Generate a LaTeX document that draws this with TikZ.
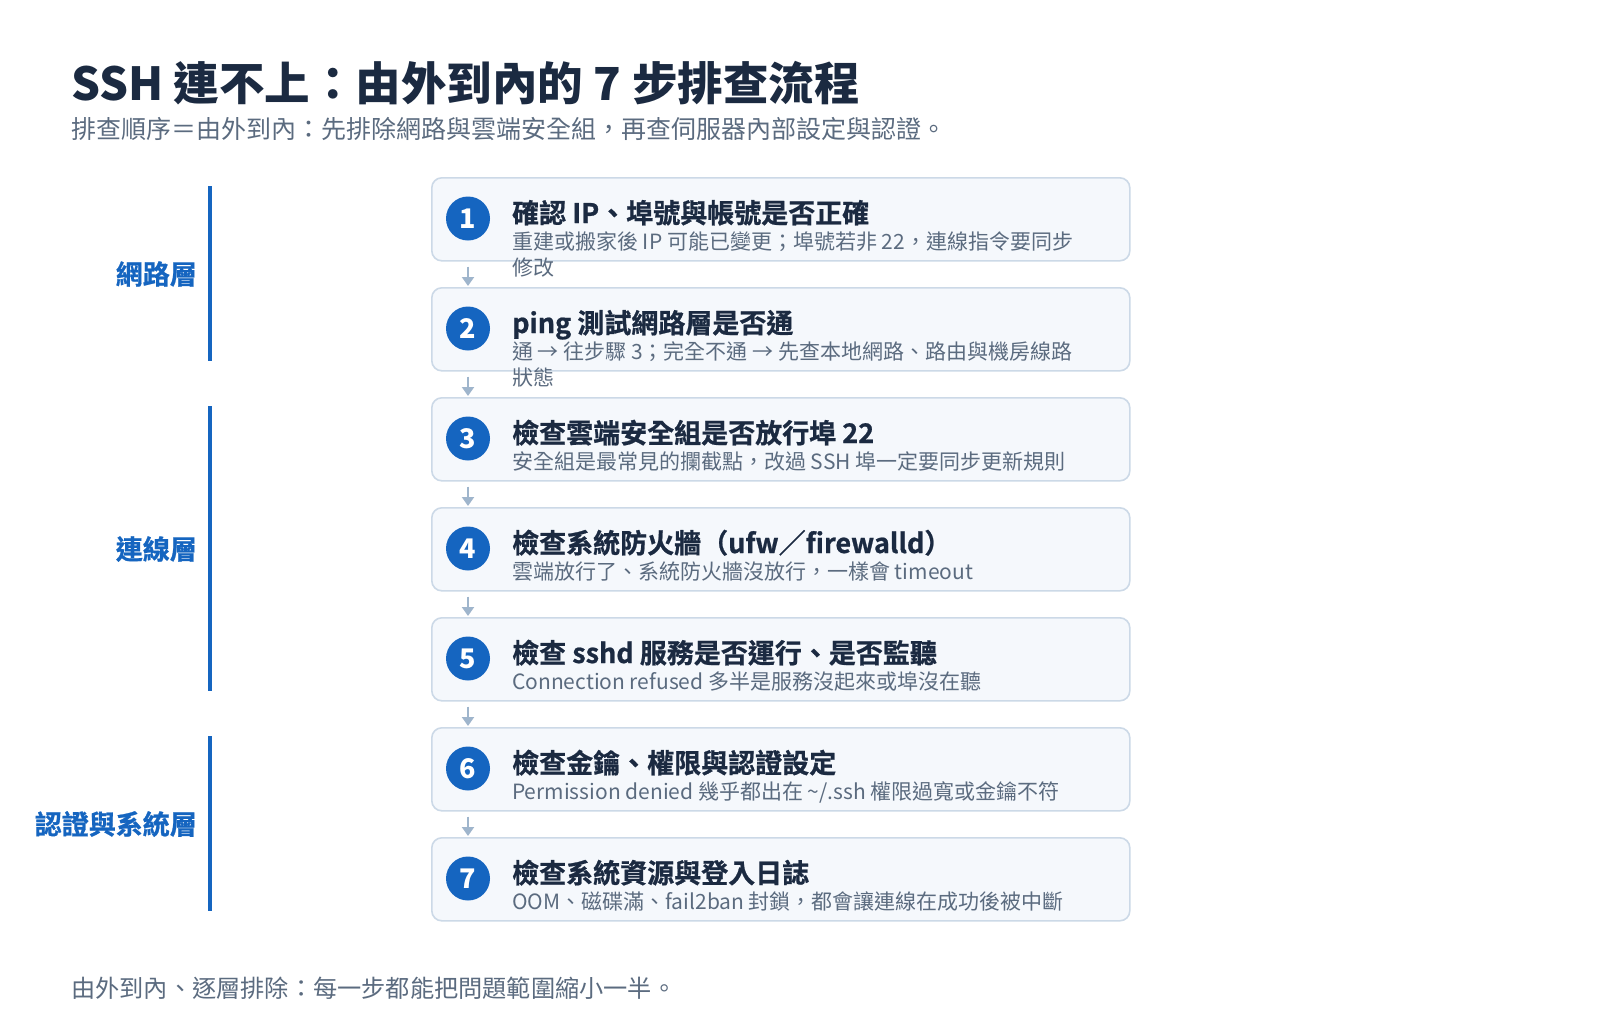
\documentclass[tikz,border=0pt]{standalone}
\usepackage{fontspec}
\setmainfont{Noto Sans CJK TC}
\newfontfamily\heavyfont{Noto Sans CJK TC Bold}[FakeBold=0.8]
\usetikzlibrary{arrows.meta}
\definecolor{titlec}{HTML}{1B2A41}
\definecolor{grayc}{HTML}{5B6B7F}
\definecolor{boxfill}{HTML}{F5F8FC}
\definecolor{boxline}{HTML}{CCD9E7}
\definecolor{bluec}{HTML}{1565C0}
\definecolor{arrc}{HTML}{9FB5CC}
\tikzset{
  box/.style={draw=boxline, line width=1.6pt, fill=boxfill, rounded corners=10pt,
    minimum width=698pt, minimum height=83pt, anchor=north west, inner sep=0pt},
  num/.style={circle, fill=bluec, minimum size=44pt, inner sep=0pt, text=white,
    font=\fontsize{27}{28}\selectfont\bfseries},
  ttl/.style={anchor=base west, inner sep=0pt, text=titlec,
    font=\fontsize{27}{30}\selectfont\heavyfont},
  dsc/.style={anchor=base west, inner sep=0pt, text=grayc,
    font=\fontsize{21}{26}\selectfont},
  flow/.style={draw=arrc, line width=2pt, -{Triangle[width=12pt,length=9pt]}},
  side/.style={draw=bluec, line width=3.5pt},
  layer/.style={anchor=east, inner sep=0pt, text=bluec,
    font=\fontsize{27}{30}\selectfont\heavyfont},
}
\newcommand\mkstep[4]{%
  \node[box] (b#1) at (431,#2) {};
  \node[num] (c#1) at (468,{#2+41.5}) {#1};
  \node[ttl] (t#1) at (512,{#2+46}) {#3};
  \node[dsc] (d#1) at (512,{#2+72}) {\vtop{\baselineskip=26pt #4}};
}
\begin{document}
\begin{tikzpicture}[x=1pt,y=-1pt]
\useasboundingbox (0,0) rectangle (1600,1020);
\fill[white] (0,0) rectangle (1600,1020);

\node[anchor=base west, inner sep=0pt, text=titlec, font=\fontsize{45.5}{50}\selectfont\bfseries]
  (title) at (71,100) {SSH 連不上：由外到內的 7 步排查流程};
\node[anchor=base west, inner sep=0pt, text=grayc, font=\fontsize{25}{30}\selectfont]
  (sub) at (71,138) {排查順序＝由外到內：先排除網路與雲端安全組，再查伺服器內部設定與認證。};

\mkstep{1}{177}{確認 IP、埠號與帳號是否正確}{\hbox{重建或搬家後 IP 可能已變更；埠號若非 22，連線指令要同步}\hbox{修改}}
\mkstep{2}{287}{ping 測試網路層是否通}{\hbox{通 → 往步驟 3；完全不通 → 先查本地網路、路由與機房線路}\hbox{狀態}}
\mkstep{3}{397}{檢查雲端安全組是否放行埠 22}{\hbox{安全組是最常見的攔截點，改過 SSH 埠一定要同步更新規則}}
\mkstep{4}{507}{檢查系統防火牆（ufw／firewalld）}{\hbox{雲端放行了、系統防火牆沒放行，一樣會 timeout}}
\mkstep{5}{617}{檢查 sshd 服務是否運行、是否監聽}{\hbox{Connection refused 多半是服務沒起來或埠沒在聽}}
\mkstep{6}{727}{檢查金鑰、權限與認證設定}{\hbox{Permission denied 幾乎都出在 \string~/.ssh 權限過寬或金鑰不符}}
\mkstep{7}{837}{檢查系統資源與登入日誌}{\hbox{OOM、磁碟滿、fail2ban 封鎖，都會讓連線在成功後被中斷}}

\foreach \a/\b in {1/2,2/3,3/4,4/5,5/6,6/7}{
  \draw[flow] ([yshift=-5pt]b\a.south -| c\a.center) -- ([yshift=1pt]b\b.north -| c\a.center);
}

\draw[side] (210,186) -- (210,361);
\draw[side] (210,406) -- (210,691);
\draw[side] (210,736) -- (210,911);
\node[layer] (l1) at (197,274) {網路層};
\node[layer] (l2) at (197,549) {連線層};
\node[layer] (l3) at (197,824) {認證與系統層};

\node[anchor=base west, inner sep=0pt, text=grayc, font=\fontsize{24.2}{28}\selectfont]
  (foot) at (71,997) {由外到內、逐層排除：每一步都能把問題範圍縮小一半。};
\end{tikzpicture}
\end{document}
